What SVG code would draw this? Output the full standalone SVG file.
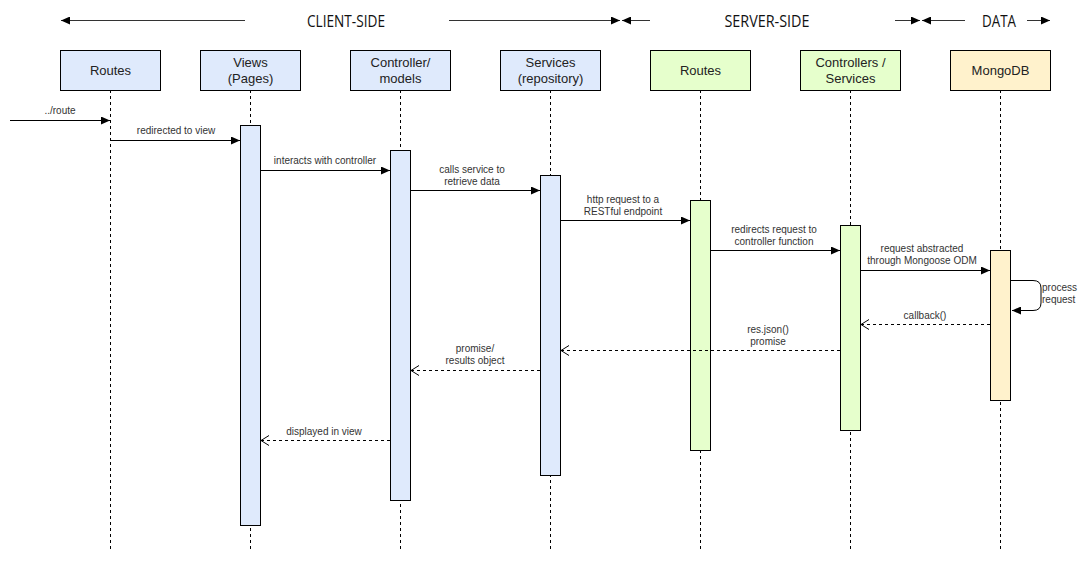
<svg xmlns="http://www.w3.org/2000/svg" width="1092" height="564" viewBox="0 0 1092 564">
<defs>
<style>
.box{stroke:#000;stroke-width:1}
.client{fill:#dfeafc}
.server{fill:#e6ffcc}
.data{fill:#fff2cc}
.life{stroke:#000;stroke-width:1;stroke-dasharray:3 3;fill:none}
.msg{stroke:#000;stroke-width:1;fill:none}
.ret{stroke:#000;stroke-width:1;fill:none;stroke-dasharray:3 3}
.hdr{stroke:#333;stroke-width:1;fill:none}
.nt{font-family:"Liberation Sans",Arial,sans-serif;font-size:13px;fill:#222;text-anchor:middle}
.lt{font-family:"Liberation Sans",Arial,sans-serif;font-size:10px;fill:#333;text-anchor:middle}
.sec{font-family:"Open Sans","Liberation Sans",sans-serif;font-size:17px;fill:#111;text-anchor:middle}
</style>
<marker id="fill" markerWidth="10" markerHeight="8" refX="9" refY="4" orient="auto" markerUnits="userSpaceOnUse"><path d="M0,0 L9,4 L0,8 Z" fill="#000"/></marker>
<marker id="open" markerWidth="12" markerHeight="12" refX="9" refY="5" orient="auto" markerUnits="userSpaceOnUse"><path d="M1,0 L9,5 L1,10" fill="none" stroke="#000"/></marker>
</defs>
<rect width="1092" height="564" fill="#fff"/>

<g id="headers">
<line class="hdr" x1="245" y1="20.5" x2="61" y2="20.5" marker-end="url(#fill)"/>
<text class="sec" x="346" y="27" textLength="78" lengthAdjust="spacingAndGlyphs">CLIENT-SIDE</text>
<line class="hdr" x1="449" y1="20.5" x2="620" y2="20.5" marker-end="url(#fill)"/>
<line class="hdr" x1="650" y1="20.5" x2="622" y2="20.5" marker-end="url(#fill)"/>
<text class="sec" x="767" y="27" textLength="85" lengthAdjust="spacingAndGlyphs">SERVER-SIDE</text>
<line class="hdr" x1="895" y1="20.5" x2="920" y2="20.5" marker-end="url(#fill)"/>
<line class="hdr" x1="965" y1="20.5" x2="922" y2="20.5" marker-end="url(#fill)"/>
<text class="sec" x="999" y="27" textLength="34" lengthAdjust="spacingAndGlyphs">DATA</text>
<line class="hdr" x1="1027" y1="20.5" x2="1050" y2="20.5" marker-end="url(#fill)"/>
</g>

<g id="lifelines">
<line class="life" x1="110.5" y1="90" x2="110.5" y2="549"/>
<line class="life" x1="250.5" y1="90" x2="250.5" y2="549"/>
<line class="life" x1="400.5" y1="90" x2="400.5" y2="549"/>
<line class="life" x1="550.5" y1="90" x2="550.5" y2="549"/>
<line class="life" x1="700.5" y1="90" x2="700.5" y2="549"/>
<line class="life" x1="850.5" y1="90" x2="850.5" y2="549"/>
<line class="life" x1="1000.5" y1="90" x2="1000.5" y2="549"/>
</g>

<g id="routes-client">
<rect class="box client" x="60.5" y="50.5" width="100" height="40"/>
<text class="nt" x="110.5" y="75">Routes</text>
</g>
<g id="views">
<rect class="box client" x="200.5" y="50.5" width="100" height="40"/>
<text class="nt" x="250.5" y="67">Views</text>
<text class="nt" x="250.5" y="83">(Pages)</text>
<rect class="box client" x="240.5" y="125.5" width="20" height="400"/>
</g>
<g id="controller">
<rect class="box client" x="350.5" y="50.5" width="100" height="40"/>
<text class="nt" x="400.5" y="67">Controller/</text>
<text class="nt" x="400.5" y="83">models</text>
<rect class="box client" x="390.5" y="150.5" width="20" height="350"/>
</g>
<g id="services">
<rect class="box client" x="500.5" y="50.5" width="100" height="40"/>
<text class="nt" x="550.5" y="67">Services</text>
<text class="nt" x="550.5" y="83">(repository)</text>
<rect class="box client" x="540.5" y="175.5" width="20" height="300"/>
</g>
<g id="routes-server">
<rect class="box server" x="650.5" y="50.5" width="100" height="40"/>
<text class="nt" x="700.5" y="75">Routes</text>
<rect class="box server" x="690.5" y="200.5" width="20" height="250"/>
</g>
<g id="controllers-services">
<rect class="box server" x="800.5" y="50.5" width="100" height="40"/>
<text class="nt" x="850.5" y="67">Controllers /</text>
<text class="nt" x="850.5" y="83">Services</text>
<rect class="box server" x="840.5" y="225.5" width="20" height="205"/>
</g>
<g id="mongodb">
<rect class="box data" x="950.5" y="50.5" width="100" height="40"/>
<text class="nt" x="1000.5" y="75">MongoDB</text>
<rect class="box data" x="990.5" y="250.5" width="20" height="150"/>
</g>

<g id="connectors">
<line class="msg" x1="10" y1="120.5" x2="110" y2="120.5" marker-end="url(#fill)"/>
<text class="lt" x="60" y="114">../route</text>
<line class="msg" x1="110" y1="140.5" x2="240" y2="140.5" marker-end="url(#fill)"/>
<text class="lt" x="176" y="134">redirected to view</text>
<line class="msg" x1="261" y1="170.5" x2="390" y2="170.5" marker-end="url(#fill)"/>
<text class="lt" x="325" y="164">interacts with controller</text>
<line class="msg" x1="411" y1="190.5" x2="540" y2="190.5" marker-end="url(#fill)"/>
<text class="lt" x="472" y="173">calls service to</text>
<text class="lt" x="472" y="185">retrieve data</text>
<line class="msg" x1="561" y1="220.5" x2="690" y2="220.5" marker-end="url(#fill)"/>
<text class="lt" x="623" y="203">http request to a</text>
<text class="lt" x="623" y="215">RESTful endpoint</text>
<line class="msg" x1="711" y1="250.5" x2="840" y2="250.5" marker-end="url(#fill)"/>
<text class="lt" x="774" y="233">redirects request to</text>
<text class="lt" x="774" y="245">controller function</text>
<line class="msg" x1="861" y1="270.5" x2="990" y2="270.5" marker-end="url(#fill)"/>
<text class="lt" x="922" y="252">request abstracted</text>
<text class="lt" x="922" y="264">through Mongoose ODM</text>
<path class="msg" d="M1011,280.5 H1033 Q1041,280.5 1041,288 V303 Q1041,310.5 1033,310.5 H1012" marker-end="url(#fill)"/>
<text class="lt" x="1042" y="291" style="text-anchor:start">process</text>
<text class="lt" x="1042" y="303" style="text-anchor:start">request</text>
<line class="ret" x1="990" y1="324.5" x2="861" y2="324.5" marker-end="url(#open)"/>
<text class="lt" x="925" y="319">callback()</text>
<line class="ret" x1="840" y1="350.5" x2="561" y2="350.5" marker-end="url(#open)"/>
<text class="lt" x="768" y="333">res.json()</text>
<text class="lt" x="768" y="345">promise</text>
<line class="ret" x1="540" y1="370.5" x2="411" y2="370.5" marker-end="url(#open)"/>
<text class="lt" x="475" y="352">promise/</text>
<text class="lt" x="475" y="364">results object</text>
<line class="ret" x1="390" y1="440.5" x2="261" y2="440.5" marker-end="url(#open)"/>
<text class="lt" x="324" y="435">displayed in view</text>
</g>
</svg>
